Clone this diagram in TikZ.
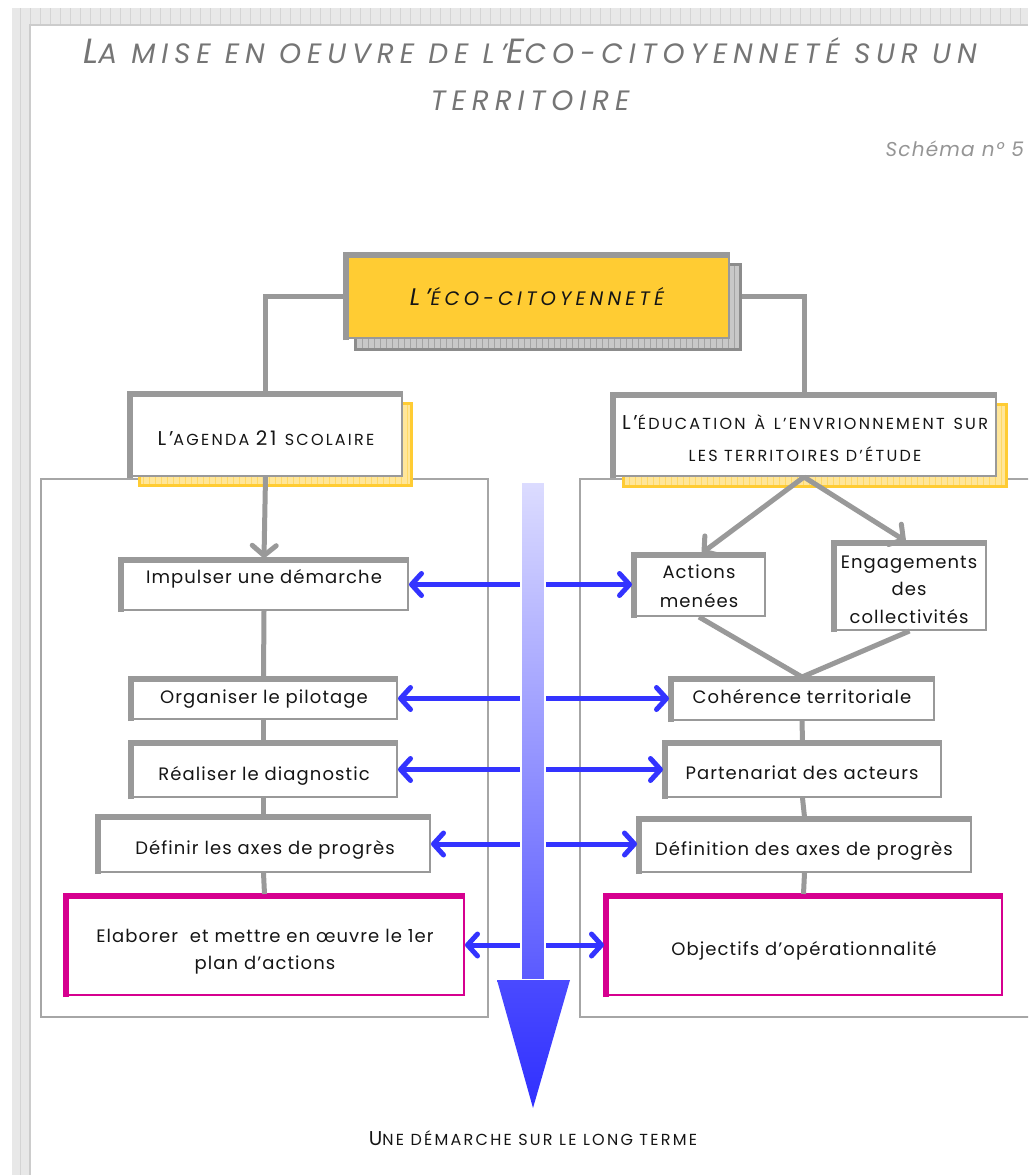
\documentclass[tikz,border=0pt]{standalone}
\usepackage{fontspec}
\setmainfont{Poppins}[LetterSpace=6]
\newfontfamily\ttlfont{Poppins}[LetterSpace=21]
\newfontfamily\scfont{Poppins}[LetterSpace=14]
\usetikzlibrary{arrows.meta}
\definecolor{boxgray}{HTML}{999999}
\definecolor{conngray}{HTML}{999999}
\definecolor{contgray}{HTML}{A6A6A6}
\definecolor{ttlgray}{HTML}{757575}
\definecolor{schgray}{HTML}{959595}
\definecolor{ecoyellow}{HTML}{FFCC33}
\definecolor{shyellow}{HTML}{FFE69A}
\definecolor{shgridy}{HTML}{FFD966}
\definecolor{shgray}{HTML}{C8C8C8}
\definecolor{shgridg}{HTML}{A4A4A4}
\definecolor{shedgeg}{HTML}{8C8C8C}
\definecolor{magbox}{HTML}{D6008F}
\definecolor{arrblue}{HTML}{3333FF}
\definecolor{shafttop}{HTML}{DCDCFF}
\definecolor{shaftbot}{HTML}{5A5AFF}
\definecolor{headtop}{HTML}{4A4AFF}
\definecolor{headbot}{HTML}{3030FF}
\definecolor{pagebg}{HTML}{E8E8E8}
\definecolor{pagegrid}{HTML}{D4D4D4}
\definecolor{pageedge}{HTML}{CCCCCC}
\definecolor{inktext}{HTML}{151515}
\newcommand\fsz[2]{\fontsize{#1}{#2}\selectfont}
\begin{document}
\begin{tikzpicture}[x=1pt,y=-1pt,
  gb/.style n args={2}{draw=boxgray, line width=2, fill=white, inner sep=0, minimum width=#1, minimum height=#2},
  mb/.style n args={2}{draw=magbox, line width=2, fill=white, inner sep=0, minimum width=#1, minimum height=#2},
  shg/.style n args={2}{draw=shedgeg, line width=3, fill=shgray, inner sep=0, minimum width=#1, minimum height=#2,
     path picture={\draw[shgridg, line width=0.8, step=6] (path picture bounding box.south west) grid (path picture bounding box.north east);}},
  shy/.style n args={2}{draw=ecoyellow, line width=3, fill=shyellow, inner sep=0, minimum width=#1, minimum height=#2,
     path picture={\draw[shgridy, line width=0.8, step=6] (path picture bounding box.south west) grid (path picture bounding box.north east);}},
  conn/.style={draw=conngray, line width=5},
  garrow/.style={draw=conngray, line width=5, -{Straight Barb[length=10pt,width=24pt,round]}},
  barrow/.style={draw=arrblue, line width=5, arrows={Straight Barb[length=10pt,width=22pt,round]-Straight Barb[length=10pt,width=22pt,round]}},
  txt/.style={inner sep=0, anchor=base, text=inktext, font=\fsz{18}{22}},
  cont/.style={draw=contgray, line width=1.5}
]
\path[use as bounding box, clip] (0,0) rectangle (1028,1175);
% page background
\fill[white] (0,0) rectangle (1028,1175);
\fill[pagebg] (12,8) rectangle (1028,25);
\fill[pagebg] (12,8) rectangle (30,1175);
\draw[pagegrid, line width=0.7, step=10] (12,8) grid (1028,25);
\draw[pagegrid, line width=0.7, step=10] (12,25) grid (30,1175);
\fill[white] (30,25) rectangle (1028,1175);
\draw[pageedge, line width=2] (30,1175) -- (30,25) -- (1028,25);

% title
\node[txt, text=ttlgray, font=\ttlfont\itshape] (title1) at (530,63)
  {\fsz{35}{40}L\fsz{28}{40}A MISE EN OEUVRE DE L’\fsz{35}{40}E\fsz{28}{40}CO-CITOYENNETÉ SUR UN};
\node[txt, text=ttlgray, font=\ttlfont\itshape] (title2) at (530,110) {\fsz{28}{40}TERRITOIRE};
\node[txt, anchor=base east, text=schgray, font=\itshape\fsz{20}{24}] (schema) at (1024,156) {Schéma n° 5};

% containers
\draw[cont] (41,479) rectangle (488,1017);
\draw[cont] (580,479) rectangle (1040,1017);

% shadows
\node[shg={385}{85}] (topsh) at (548,307) {};
\node[shy={272}{82}] (agsh) at (275.5,444.5) {};
\node[shy={383}{82}] (edsh) at (815,445.5) {};

% boxes
\node[gb={384}{84}, fill=ecoyellow] (top) at (537,296) {};
\node[gb={273}{83}] (agenda) at (265.5,434.5) {};
\node[gb={384}{82}] (edu) at (804,435) {};
\node[gb={288}{51}] (imp) at (264,584.5) {};
\node[gb={267}{41}] (org) at (263.5,698.5) {};
\node[gb={267}{55}] (rea) at (263.5,769.5) {};
\node[gb={333}{56}] (dfa) at (263.5,844) {};
\node[mb={399}{100}] (elab) at (264.5,945) {};
\node[gb={132}{62}] (act) at (699,585) {};
\node[gb={153}{88}] (eng) at (909.5,586) {};
\node[gb={264}{42}] (coh) at (802,699) {};
\node[gb={277}{55}] (par) at (802.5,769.5) {};
\node[gb={333}{54}] (dfb) at (804.5,845) {};
\node[mb={397}{100}] (obj) at (803.5,945) {};

% thick top/left borders
\foreach \n/\c in {top/boxgray, agenda/boxgray, edu/boxgray, imp/boxgray, org/boxgray, rea/boxgray, dfa/boxgray,
                   act/boxgray, eng/boxgray, coh/boxgray, par/boxgray, dfb/boxgray, elab/magbox, obj/magbox}
  \draw[draw=\c, line width=6] ([shift={(2,1)}]\n.south west) -- ([shift={(2,2)}]\n.north west) -- ([shift={(0,2)}]\n.north east);

% connectors
\draw[conn] (top.west) -| (agenda.north);
\draw[conn] (topsh.east |- top.east) -| (edu.north);
\draw[garrow] (agenda.south) -- (imp.north);
\draw[conn] (imp.south) -- (org.north);
\draw[conn] (org.south) -- (rea.north);
\draw[conn] (rea.south) -- (dfa.north);
\draw[conn] (dfa.south) -- (elab.north);
\draw[garrow] (edu.south) -- ([xshift=3]act.north);
\draw[garrow] (edu.south) -- ([xshift=-4]eng.north);
\draw[conn] (act.south) -- (coh.north);
\draw[conn] (eng.south) -- (coh.north);
\draw[conn] (coh.south) -- (par.north);
\draw[conn] (par.south) -- (dfb.north);
\draw[conn] (dfb.south) -- (obj.north);

% blue double arrows
\draw[barrow] (imp.east) -- (imp.east -| act.west);
\draw[barrow] (org.east) -- (org.east -| coh.west);
\draw[barrow] (rea.east) -- (rea.east -| par.west);
\draw[barrow] (dfa.east) -- (dfa.east -| dfb.west);
\draw[barrow] (elab.east) -- (elab.east -| obj.west);

% big arrow
\shadedraw[draw=white, line width=1.5, top color=shafttop, bottom color=shaftbot] (521,482) rectangle (545,980);
\shade[top color=headtop, bottom color=headbot] (497,980) -- (570,980) -- (533,1108) -- cycle;

% texts
\node[txt, font=\ttlfont\itshape] (topt) at (537,305) {\fsz{24}{28}L’\fsz{19.5}{28}ÉCO-CITOYENNETÉ};
\node[txt, font=\scfont] (agt) at (266,445) {\fsz{20}{22}L’\fsz{16}{22}AGENDA \fsz{20}{22}21 \fsz{16}{22}SCOLAIRE};
\node[txt, font=\scfont] (edt1) at (805,429) {\makebox[366pt][s]{\fsz{20}{22}L’\fsz{16}{22}ÉDUCATION À L’ENVRIONNEMENT SUR}};
\node[txt, font=\scfont] (edt2) at (805,461) {\fsz{16}{22}LES TERRITOIRES D’ÉTUDE};
\node[txt] (impt) at (264,583) {Impulser une démarche};
\node[txt] (orgt) at (264,703) {Organiser le pilotage};
\node[txt] (reat) at (264,780) {Réaliser le diagnostic};
\node[txt] (dfat) at (265,854) {Définir les axes de progrès};
\node[txt] (elabt1) at (265,942) {Elaborer~ et mettre en œuvre le 1er};
\node[txt] (elabt2) at (265,969) {plan d’actions};
\node[txt] (actt1) at (699,578) {Actions};
\node[txt] (actt2) at (699,607) {menées};
\node[txt] (engt1) at (909,568) {Engagements};
\node[txt] (engt2) at (909,595) {des};
\node[txt] (engt3) at (909,623) {collectivités};
\node[txt] (coht) at (802,703) {Cohérence territoriale};
\node[txt] (part) at (802,779) {Partenariat des acteurs};
\node[txt] (dfbt) at (804,855) {Définition des axes de progrès};
\node[txt] (objt) at (804,955) {Objectifs d’opérationnalité};
\node[txt, font=\scfont] (bott) at (533,1145) {\fsz{20}{24}U\fsz{16}{24}NE DÉMARCHE SUR LE LONG TERME};
\end{tikzpicture}
\end{document}
